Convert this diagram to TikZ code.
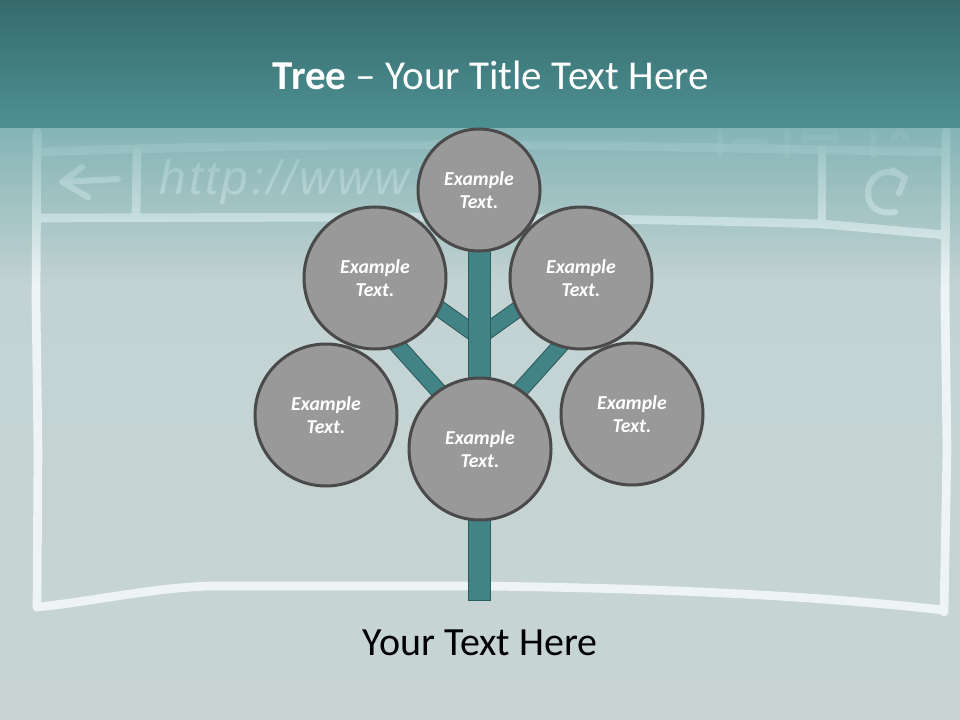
\documentclass[tikz,border=0pt]{standalone}
\usepackage{fontspec}
\setmainfont{Carlito}
\newfontfamily\chalkfont[LetterSpace=6]{Liberation Sans}
\usetikzlibrary{fadings}
\definecolor{bandtop}{HTML}{366B6C}
\definecolor{bandbot}{HTML}{4D9194}
\definecolor{boardtop}{HTML}{C1D2D2}
\definecolor{boardbot}{HTML}{C8D4D4}
\definecolor{fadecol}{HTML}{6AA8AA}
\definecolor{chalkc}{HTML}{F0F6F7}
\definecolor{circfill}{HTML}{999999}
\definecolor{circedge}{HTML}{4A4A4A}
\definecolor{tealfill}{HTML}{428385}
\definecolor{tealdark}{HTML}{2D5C5D}
\tikzfading[name=fadedown, top color=transparent!0, bottom color=transparent!100]
\begin{document}
\begin{tikzpicture}[x=0.75pt,y=-0.75pt,
  chalk/.style={draw=chalkc, line width=6.5pt, line cap=round, line join=round, opacity=0.97},
  chalkthin/.style={draw=chalkc, line width=4.5pt, line cap=round, line join=round, opacity=0.85},
  leaf/.style={circle, draw=circedge, fill=circfill, line width=2.25pt, minimum size=106.5pt, inner sep=0pt},
  leaftext/.style={text=white, font=\fontsize{14.8}{17}\selectfont\bfseries\itshape, align=center},
  branch/.style={draw=tealdark, line width=0.8pt, double=tealfill, double distance=11pt},
  trunkbox/.style={rectangle, draw=tealdark, fill=tealfill, line width=0.8pt, minimum width=16.5pt, minimum height=263pt, inner sep=0pt}]
\useasboundingbox (0,0) rectangle (960,720);
% board background
\shade[top color=boardtop, bottom color=boardbot] (0,126) rectangle (960,720);
% chalk browser drawing
\draw[chalk] (37,132) -- (36,300) -- (38,450) -- (37,607);
\draw[chalk] (946,132) -- (945,300) -- (947,450) -- (944,612);
\draw[chalk] (37,607) .. controls (90,602) and (150,588) .. (210,586) -- (480,586) .. controls (640,588) and (800,594) .. (943,610);
\draw[chalk, opacity=0.6] (38,152) .. controls (200,146) and (400,143) .. (620,146) -- (946,152);
\draw[chalk] (38,218) -- (420,217) .. controls (600,218) and (800,223) .. (822,224) -- (946,235);
\draw[chalk] (137,152) -- (136,216);
\draw[chalk] (822,150) -- (822,224);
% back arrow
\draw[chalkthin] (62,182) -- (118,179);
\draw[chalkthin] (82,167) -- (62,182) -- (88,197);
% reload arrow
\draw[chalkthin] (902,176) .. controls (880,164) and (866,182) .. (868,196) .. controls (870,210) and (882,214) .. (895,212);
\draw[chalkthin] (893,170) -- (905,178) -- (899,193);
% window buttons
\draw[chalkthin, opacity=0.35] (720,132) -- (720,155) (787,132) -- (787,155) (873,132) -- (873,155);
\draw[chalkthin, opacity=0.35] (735,142) -- (765,142);
\draw[chalkthin, opacity=0.3] (805,137) -- (835,137) (805,133) -- (805,141) (835,133) -- (835,141);
\draw[chalkthin, opacity=0.3] (893,139) -- (900,131) -- (907,139);
% chalk url text
\node[anchor=west, text=chalkc, opacity=0.85, font=\chalkfont\fontsize{36}{40}\selectfont\itshape] (url) at (155,182) {http://www};
% fade from band into board
\fill[fadecol, path fading=fadedown, opacity=0.7] (0,126) rectangle (960,285);
% top band
\shade[top color=bandtop, bottom color=bandbot] (0,0) rectangle (960,128);
% title
\node[text=white, font=\fontsize{30.8}{36}\selectfont] (title) at (491,75) {\textbf{Tree} – Your Title Text Here};
% tree
\coordinate (jU) at (479,337);
\coordinate (jL) at (479,436);
\coordinate (eUL) at (430,302);
\coordinate (eUR) at (528,302);
\coordinate (eLL) at (390,337);
\coordinate (eLR) at (568,337);
\draw[branch] (jU) -- (eUL);
\draw[branch] (jU) -- (eUR);
\draw[branch] (jL) -- (eLL);
\draw[branch] (jL) -- (eLR);
\node[trunkbox] (trunk) at (479.5,425.5) {};
\node[leaf, minimum size=91.5pt] (top) at (479,190) {};
\node[leaf] (ul) at (375,278) {};
\node[leaf] (ur) at (581,278) {};
\node[leaf] (ll) at (326,415) {};
\node[leaf] (lr) at (632,414) {};
\node[leaf] (mid) at (480,449) {};
\foreach \n in {top,ul,ur,ll,lr,mid}{
  \node[leaftext] at (\n) {Example\\Text.};
}
% caption
\node[text=black, font=\fontsize{30}{36}\selectfont] (caption) at (480,643) {Your Text Here};
\end{tikzpicture}
\end{document}
